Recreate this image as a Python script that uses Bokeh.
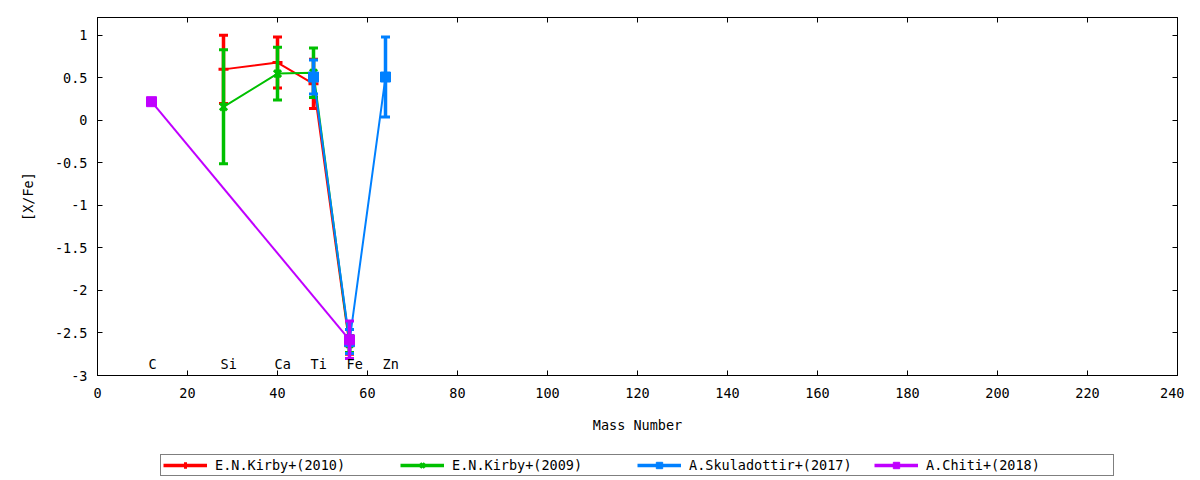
from bokeh.plotting import figure
from bokeh.layouts import column
from bokeh.models import (LinearAxis, FixedTicker, CustomJSTickFormatter, Legend,
                          LegendItem, Range1d)
from bokeh.core.properties import value
from bokeh.embed import file_html
from bokeh.resources import INLINE

FONT = "DejaVu Sans Mono"
FS = "13.5px"

# ---------------- data ----------------
elements = ["C", "Si", "Ca", "Ti", "Fe", "Zn"]
element_mass = [12, 28, 40, 48, 56, 64]

kirby2010_mass = [28, 40, 48, 56]
kirby2010_val = [0.60, 0.68, 0.43, -2.65]
kirby2010_err = [0.40, 0.30, 0.29, 0.10]

kirby2009_mass = [28, 40, 48, 56]
kirby2009_val = [0.16, 0.55, 0.56, -2.63]
kirby2009_err = [0.67, 0.31, 0.29, 0.10]

skul_mass = [48, 56, 64]
skul_val = [0.51, -2.60, 0.51]
skul_err = [0.20, 0.14, 0.47]

chiti_mass = [12, 56]
chiti_val = [0.22, -2.58]
chiti_err = [0.0, 0.22]

x_ticks = [0, 20, 40, 60, 80, 100, 120, 140, 160, 180, 200, 220, 240]
y_ticks = [-3, -2.5, -2, -1.5, -1, -0.5, 0, 0.5, 1]

series = [
    ("E.N.Kirby+(2010)", kirby2010_mass, kirby2010_val, kirby2010_err, "#ff0000", "cross"),
    ("E.N.Kirby+(2009)", kirby2009_mass, kirby2009_val, kirby2009_err, "#00c000", "x"),
    ("A.Skuladottir+(2017)", skul_mass, skul_val, skul_err, "#0080ff", "square"),
    ("A.Chiti+(2018)", chiti_mass, chiti_val, chiti_err, "#c000ff", "square"),
]

# ---------------- main figure ----------------
p = figure(width=1184, height=450, output_backend="svg", toolbar_location=None,
           x_range=Range1d(0, 240), y_range=Range1d(-3, 1.21),
           min_border_left=97, min_border_right=7, min_border_top=17,
           min_border_bottom=75, background_fill_color="white",
           border_fill_color="white")
p.grid.visible = False
p.outline_line_color = "black"
p.outline_line_alpha = 1.0
p.outline_line_width = 1

fmt = CustomJSTickFormatter(code="return tick.toString();")
blank = CustomJSTickFormatter(code="return '';")


def style_axis(ax, ticks, show_labels):
    ax.ticker = FixedTicker(ticks=ticks)
    ax.major_tick_in = 5
    ax.major_tick_out = 0
    ax.minor_tick_line_color = None
    ax.axis_line_color = "black"
    ax.major_tick_line_color = "black"
    ax.major_label_text_font = FONT
    ax.major_label_text_font_size = FS
    ax.major_label_text_color = "black"
    ax.axis_label_text_font = FONT
    ax.axis_label_text_font_size = FS
    ax.axis_label_text_font_style = "normal"
    ax.axis_label_text_color = "black"
    ax.formatter = fmt if show_labels else blank


xa = p.xaxis[0]
style_axis(xa, x_ticks, True)
xa.axis_label = "Mass Number"
xa.major_label_standoff = 12
xa.axis_label_standoff = 16

ya = p.yaxis[0]
style_axis(ya, y_ticks, True)
ya.axis_label = "[X/Fe]"
ya.major_label_standoff = 10
ya.axis_label_standoff = 16

top = LinearAxis()
style_axis(top, x_ticks, False)
top.major_label_standoff = 0
p.add_layout(top, "above")

right = LinearAxis()
style_axis(right, y_ticks, False)
right.major_label_standoff = 0
p.add_layout(right, "right")

# ---------------- legend strip ----------------
# frame aligned with the main plot; its ranges keep the proxy glyphs off-screen
lf = figure(width=1184, height=30, output_backend="svg", toolbar_location=None,
            x_range=Range1d(0, 1), y_range=Range1d(0, 1),
            x_axis_type=None, y_axis_type=None,
            min_border_left=0, min_border_right=0, min_border_top=0,
            min_border_bottom=0, background_fill_color="white",
            border_fill_color="white")
lf.grid.visible = False
lf.outline_line_color = None

# ---------------- series ----------------
legend_items = []
for name, xs, ys, es, col, mk in series:
    lo = [y - e for y, e in zip(ys, es)]
    hi = [y + e for y, e in zip(ys, es)]
    p.line(xs, ys, line_color=col, line_width=2)
    p.segment(x0=xs, y0=lo, x1=xs, y1=hi, line_color=col, line_width=3.5)
    p.scatter(xs, lo, marker="dash", size=9, line_color=col, line_width=3)
    p.scatter(xs, hi, marker="dash", size=9, line_color=col, line_width=3)
    if mk == "square":
        p.scatter(xs, ys, marker="square", size=10, fill_color=col, line_color=col)
    else:
        p.scatter(xs, ys, marker=mk, size=10, line_color=col, line_width=3)
    # legend sample renderers (same data, outside the strip's ranges)
    lr = lf.line(xs, ys, line_color=col, line_width=3.5)
    if mk == "square":
        mr = lf.scatter(xs, ys, marker="square", size=9, fill_color=col, line_color=col)
    else:
        mr = lf.scatter(xs, ys, marker=mk, size=9, line_color=col, line_width=3)
    legend_items.append(LegendItem(label=name, renderers=[lr, mr]))

# element labels
p.text(x=element_mass, y=[-2.86] * len(elements), text=elements,
       text_font=value(FONT), text_font_size=FS, text_baseline="middle",
       text_align="left", x_offset=-3, text_color="black")

legend = Legend(items=legend_items, orientation="horizontal", location=(63, 4),
                padding=2, spacing=0, margin=0, label_width=185, glyph_width=44,
                glyph_height=16, label_height=16, label_standoff=8,
                label_text_font=FONT, label_text_font_size=FS,
                label_text_color="black",
                border_line_color="black", border_line_width=1,
                background_fill_color="white", background_fill_alpha=1.0)
lf.add_layout(legend)

layout = column(p, lf, spacing=0)
open("out.html", "w").write(file_html(layout, INLINE))
